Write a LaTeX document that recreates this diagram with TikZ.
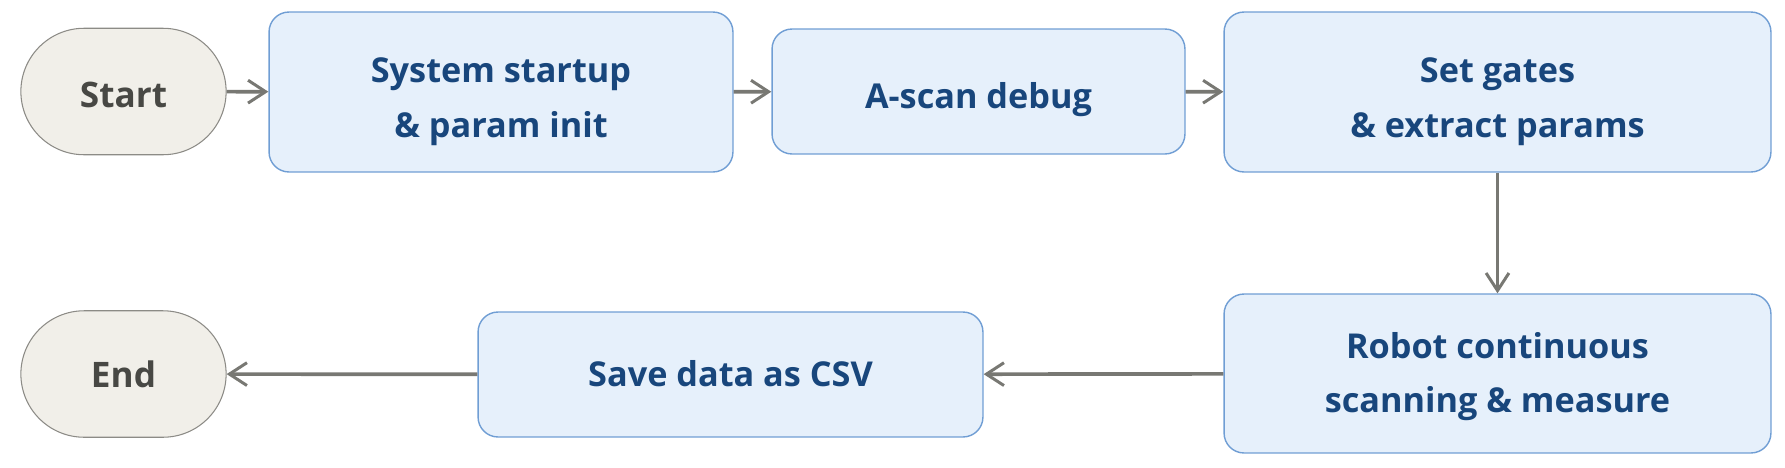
\documentclass[tikz,border=0pt]{standalone}
\usepackage{fontspec}
\setmainfont{Open Sans}
\usepackage{tikz}
\usetikzlibrary{arrows.meta,shapes.misc,positioning}

\definecolor{boxfill}{RGB}{230,240,251}
\definecolor{boxline}{RGB}{112,158,212}
\definecolor{boxtext}{RGB}{24,70,124}
\definecolor{termfill}{RGB}{241,239,233}
\definecolor{termline}{RGB}{140,139,134}
\definecolor{termtext}{RGB}{72,72,68}
\definecolor{flowline}{RGB}{120,120,115}

% text lines of a box, moved down a little without changing the box size
\newcommand*{\steptext}[2][0pt]{\raisebox{-#1}[\height][\depth]{\begin{tabular}{@{}c@{}}#2\end{tabular}}}

\begin{document}
\begin{tikzpicture}[x=0.02cm,y=-0.02cm]
\tikzstyle terminal=[rounded rectangle,draw=termline,fill=termfill,line width=0.6pt,
    text=termtext,font=\bfseries\fontsize{20}{24}\selectfont,minimum width=4.34cm,minimum height=2.53cm]
\tikzstyle stepbox=[rectangle,rounded corners=0.4cm,draw=boxline,fill=boxfill,line width=0.8pt,
    text=boxtext,font=\bfseries\fontsize{19.5}{31}\selectfont,minimum height=3.2cm]
\tikzstyle flow=[draw=flowline,line width=2.1pt,-{Straight Barb[length=10pt,width=13pt,line width=1.7pt]}]
 \useasboundingbox (0,0) rectangle (1785,467);
 % top row
 \node[terminal] (start) at (123.5,91.5) {\steptext[4.5pt]{Start}};
 \node[stepbox,minimum width=9.28cm] (init) at (501,92) {\steptext[4pt]{System startup\\ \& param init}};
 \node[stepbox,minimum width=8.26cm,minimum height=2.5cm] (ascan) at (978.5,91.5) {\steptext[3.5pt]{A-scan debug}};
 \node[stepbox,minimum width=10.94cm] (gates) at (1497.5,92) {\steptext[4pt]{Set gates\\ \& extract params}};
 % bottom row
 \node[stepbox,minimum width=10.94cm,minimum height=3.18cm] (robot) at (1497.5,373.5) {\steptext[0.5pt]{Robot continuous\\ scanning \& measure}};
 \node[stepbox,minimum width=10.1cm,minimum height=2.5cm] (save) at (730.5,374.5) {\steptext[0.5pt]{Save data as CSV}};
 \node[terminal] (end) at (123.5,374) {\steptext[3pt]{End}};
 \draw[flow] (start) -- (init);
 \draw[flow] (init) -- (ascan);
 \draw[flow] (ascan) -- (gates);
 \draw[flow] (gates) -- (robot);
 \draw[flow] (robot) -- (save);
 \draw[flow] (save) -- (end);
\end{tikzpicture}
\end{document}
